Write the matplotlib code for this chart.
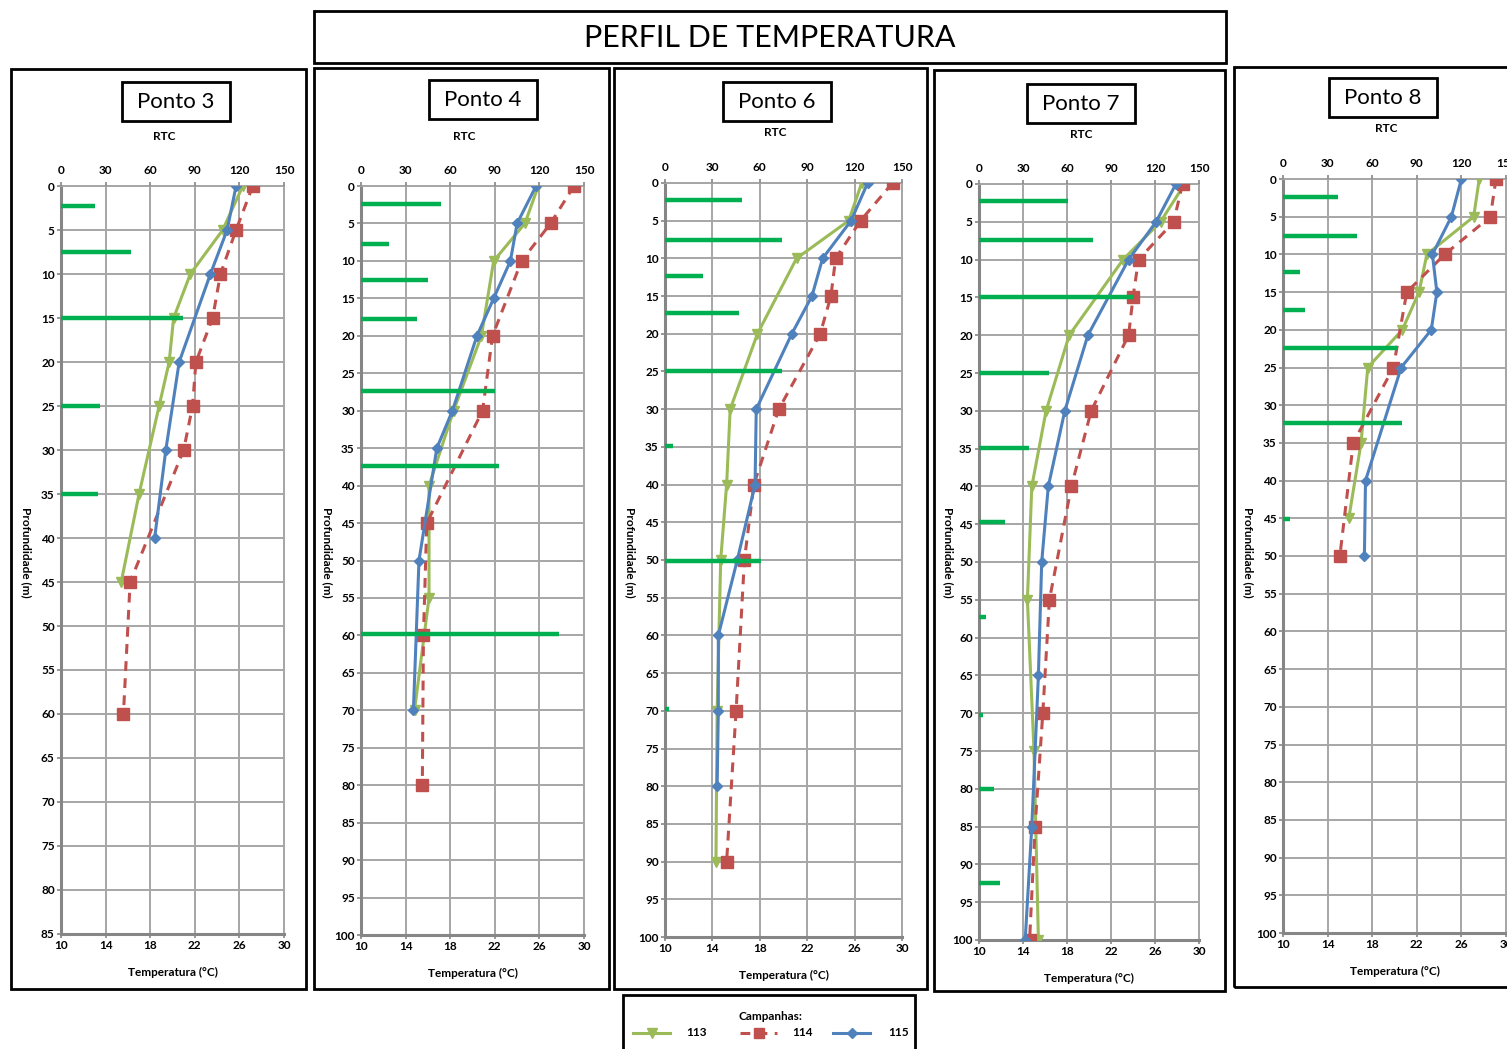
import matplotlib
matplotlib.use("Agg")
import matplotlib.pyplot as plt
from matplotlib.patches import Rectangle
from matplotlib.lines import Line2D

plt.rcParams['font.family'] = ['Lato', 'DejaVu Sans']

W, H = 1507, 1049

# ---------------- data ----------------
# Ponto 3
p3_depth_113 = [0, 5, 10, 15, 20, 25, 35, 45]
p3_temp_113 = [26.3, 24.5, 21.6, 20.1, 19.7, 18.8, 17.0, 15.4]
p3_depth_114 = [0, 5, 10, 15, 20, 25, 30, 45, 60]
p3_temp_114 = [27.2, 25.7, 24.3, 23.6, 22.1, 21.8, 21.0, 16.2, 15.6]
p3_depth_115 = [0, 5, 10, 20, 30, 40]
p3_temp_115 = [25.7, 24.9, 23.4, 20.6, 19.4, 18.4]
p3_rtc_depth = [2.3, 7.5, 15, 25, 35]
p3_rtc = [23, 47, 82, 26, 25]

# Ponto 4
p4_depth_113 = [0, 5, 10, 20, 30, 40, 55, 70]
p4_temp_113 = [25.9, 24.7, 21.9, 20.8, 18.3, 16.1, 16.1, 14.8]
p4_depth_114 = [0, 5, 10, 20, 30, 45, 60, 80]
p4_temp_114 = [29.1, 27.0, 24.4, 21.8, 20.9, 15.9, 15.6, 15.5]
p4_depth_115 = [0, 5, 10, 15, 20, 30, 35, 50, 70]
p4_temp_115 = [25.7, 24.0, 23.4, 21.9, 20.4, 18.2, 16.8, 15.2, 14.7]
p4_rtc_depth = [2.4, 7.8, 12.6, 17.7, 27.4, 37.4, 59.8]
p4_rtc = [54, 19, 45, 38, 90, 93, 133]

# Ponto 6
p6_depth_113 = [0, 5, 10, 20, 30, 40, 50, 70, 90]
p6_temp_113 = [26.6, 25.5, 21.1, 17.8, 15.5, 15.2, 14.7, 14.4, 14.3]
p6_depth_114 = [0, 5, 10, 15, 20, 30, 40, 50, 70, 90]
p6_temp_114 = [29.2, 26.5, 24.4, 24.0, 23.1, 19.6, 17.5, 16.7, 16.0, 15.2]
p6_depth_115 = [0, 5, 10, 15, 20, 30, 40, 50, 60, 70, 80]
p6_temp_115 = [27.1, 25.7, 23.3, 22.4, 20.7, 17.7, 17.6, 16.1, 14.5, 14.5, 14.4]
p6_rtc_depth = [2.2, 7.5, 12.4, 17.3, 25.0, 34.9, 50.1, 69.8]
p6_rtc = [48.5, 74, 24, 47, 74, 5, 61, 2.5]

# Ponto 7
p7_depth_113 = [0, 5, 10, 20, 30, 40, 55, 75, 100]
p7_temp_113 = [28.7, 26.5, 23.1, 18.2, 16.1, 14.8, 14.4, 15.0, 15.4]
p7_depth_114 = [0, 5, 10, 15, 20, 30, 40, 55, 70, 85, 100]
p7_temp_114 = [28.5, 27.7, 24.5, 24.0, 23.6, 20.2, 18.4, 16.4, 15.8, 15.1, 14.6]
p7_depth_115 = [0, 5, 10, 20, 30, 40, 50, 65, 85, 100]
p7_temp_115 = [27.9, 26.1, 23.6, 19.9, 17.8, 16.3, 15.7, 15.4, 14.8, 14.2]
p7_rtc_depth = [2.3, 7.4, 14.9, 25.0, 34.9, 44.7, 57.3, 70.2, 80.0, 92.4]
p7_rtc = [61, 78, 105.5, 48, 34, 17.5, 5, 2.7, 10, 14]

# Ponto 8
p8_depth_113 = [0, 5, 10, 15, 20, 25, 35, 45]
p8_temp_113 = [27.6, 27.1, 22.9, 22.2, 20.7, 17.6, 17.0, 15.9]
p8_depth_114 = [0, 5, 10, 15, 25, 35, 50]
p8_temp_114 = [29.1, 28.6, 24.5, 21.1, 19.9, 16.3, 15.1]
p8_depth_115 = [0, 5, 10, 15, 20, 25, 40, 50]
p8_temp_115 = [26.0, 25.1, 23.4, 23.8, 23.3, 20.6, 17.4, 17.3]
p8_rtc_depth = [2.4, 7.5, 12.3, 17.4, 22.4, 32.3, 45.1]
p8_rtc = [37, 49.5, 11.4, 14.8, 77, 80, 5]

stations = ["Ponto 3", "Ponto 4", "Ponto 6", "Ponto 7", "Ponto 8"]
campaigns = ["113", "114", "115"]
temp_ticks = [10, 14, 18, 22, 26, 30]
rtc_ticks = [0, 30, 60, 90, 120, 150]

series = [
    (p3_depth_113, p3_temp_113, p3_depth_114, p3_temp_114, p3_depth_115, p3_temp_115, p3_rtc_depth, p3_rtc),
    (p4_depth_113, p4_temp_113, p4_depth_114, p4_temp_114, p4_depth_115, p4_temp_115, p4_rtc_depth, p4_rtc),
    (p6_depth_113, p6_temp_113, p6_depth_114, p6_temp_114, p6_depth_115, p6_temp_115, p6_rtc_depth, p6_rtc),
    (p7_depth_113, p7_temp_113, p7_depth_114, p7_temp_114, p7_depth_115, p7_temp_115, p7_rtc_depth, p7_rtc),
    (p8_depth_113, p8_temp_113, p8_depth_114, p8_temp_114, p8_depth_115, p8_temp_115, p8_rtc_depth, p8_rtc),
]
max_depth = [85, 100, 100, 100, 100]

# ---------------- layout (pixels) ----------------
# panel frame (x0, y0, x1, y1), plot area (x0, y0, x1, y1), station box (x0, y0, x1, y1)
frames = [(11, 69, 306, 989), (314, 68, 609, 989), (614, 68, 927, 989),
          (934, 70, 1225, 991), (1234, 67, 1530, 987)]
plots = [(61, 186, 284, 934), (361, 186, 584, 935), (665, 183, 902, 937),
         (979, 184, 1199, 940), (1283, 179, 1506, 933)]
boxes = [(122, 82, 230, 121), (429, 80, 537, 119), (723, 82, 831, 121),
         (1027, 84, 1135, 123), (1329, 78, 1437, 117)]
ylabel_x = [26, 327, 630, 948, 1248]

COL_113 = '#9bbb59'
COL_114 = '#c0504d'
COL_115 = '#4f81bd'
COL_RTC = '#00b050'
GRID = '#a6a6a6'

fig = plt.figure(figsize=(W / 100, H / 100), dpi=100)


def fx(x):
    return x / W


def fy(y):
    return 1 - y / H


def frame_rect(x0, y0, x1, y1, lw=2.0):
    fig.patches.append(Rectangle((fx(x0), fy(y1)), fx(x1) - fx(x0), fy(y0) - fy(y1),
                                 transform=fig.transFigure, fill=False,
                                 edgecolor='black', lw=lw, zorder=5))


# main title
frame_rect(314, 11, 1226, 63)
fig.text(fx(770), fy(38), "PERFIL DE TEMPERATURA", ha='center', va='center',
         fontsize=22, color='black')

for i, name in enumerate(stations):
    d113, t113, d114, t114, d115, t115, rd, rv = series[i]
    frame_rect(*frames[i])
    bx0, by0, bx1, by1 = boxes[i]
    frame_rect(bx0, by0, bx1, by1)
    fig.text(fx((bx0 + bx1) / 2), fy((by0 + by1) / 2), name, ha='center', va='center',
             fontsize=16, color='black')

    x0, y0, x1, y1 = plots[i]
    ax = fig.add_axes([fx(x0), fy(y1), fx(x1) - fx(x0), fy(y0) - fy(y1)])
    ax.set_xlim(10, 30)
    ax.set_ylim(max_depth[i], 0)
    ax.set_xticks(temp_ticks)
    ax.set_yticks(range(0, max_depth[i] + 1, 5))
    ax.grid(True, color=GRID, lw=1.4)
    ax.set_axisbelow(True)
    for s in ['top', 'right']:
        ax.spines[s].set_color(GRID)
        ax.spines[s].set_linewidth(1.4)
    for s in ['left', 'bottom']:
        ax.spines[s].set_color('#868686')
        ax.spines[s].set_linewidth(2.2)
    ax.tick_params(axis='both', length=3, width=1.2, color='#868686', pad=1.5,
                   labelsize=8.5)
    for lab in ax.get_xticklabels() + ax.get_yticklabels():
        lab.set_fontweight('bold')

    ax.plot(t113, d113, color=COL_113, lw=2.2, marker='v', ms=7,
            mfc=COL_113, mec=COL_113, zorder=3)
    ax.plot(t114, d114, color=COL_114, lw=2.2, ls=(0, (3.2, 2.4)), marker='s', ms=8.5,
            mfc=COL_114, mec=COL_114, zorder=4)
    ax.plot(t115, d115, color=COL_115, lw=2.2, marker='D', ms=5.5,
            mfc=COL_115, mec=COL_115, zorder=5)

    ax2 = ax.twiny()
    ax2.set_xlim(0, 150)
    ax2.set_xticks(rtc_ticks)
    ax2.tick_params(axis='x', length=3, width=1.2, color='#868686', pad=4, labelsize=8.5)
    for lab in ax2.get_xticklabels():
        lab.set_fontweight('bold')
    for s in ax2.spines.values():
        s.set_visible(False)
    ax2.hlines(rd, 0, rv, color=COL_RTC, lw=3.2, zorder=6)

    fig.text(fx((x0 + x1) / 2 - 8), fy(y0 - 50), "RTC", ha='center', va='center',
             fontsize=8.5, fontweight='bold')
    fig.text(fx((x0 + x1) / 2), fy(y1 + 38), "Temperatura (°C)", ha='center', va='center',
             fontsize=8.5, fontweight='bold')
    fig.text(fx(ylabel_x[i]), fy(552), "Profundidade (m)", ha='center', va='center',
             rotation=270, fontsize=8.5, fontweight='bold')

# legend
frame_rect(623, 995, 915, 1060)
fig.text(fx(770), fy(1016), "Campanhas:", ha='center', va='center', fontsize=8.5,
         fontweight='bold')
leg_items = [(633, 670, COL_113, '-', 'v', 7, campaigns[0], 686),
             (740, 777, COL_114, (0, (3.2, 2.4)), 's', 7, campaigns[1], 792),
             (833, 870, COL_115, '-', 'D', 5, campaigns[2], 888)]
for lx0, lx1, col, ls, mk, ms, lab, tx in leg_items:
    fig.lines.append(Line2D([fx(lx0), fx(lx1)], [fy(1033), fy(1033)], transform=fig.transFigure,
                            color=col, lw=2.2, ls=ls))
    fig.lines.append(Line2D([fx((lx0 + lx1) / 2)], [fy(1033)], transform=fig.transFigure,
                            color=col, marker=mk, ms=ms, mfc=col, mec=col, ls='none'))
    fig.text(fx(tx), fy(1033), lab, ha='left', va='center', fontsize=8.5, fontweight='bold')

fig.savefig("out.png", dpi=100, facecolor='white')
